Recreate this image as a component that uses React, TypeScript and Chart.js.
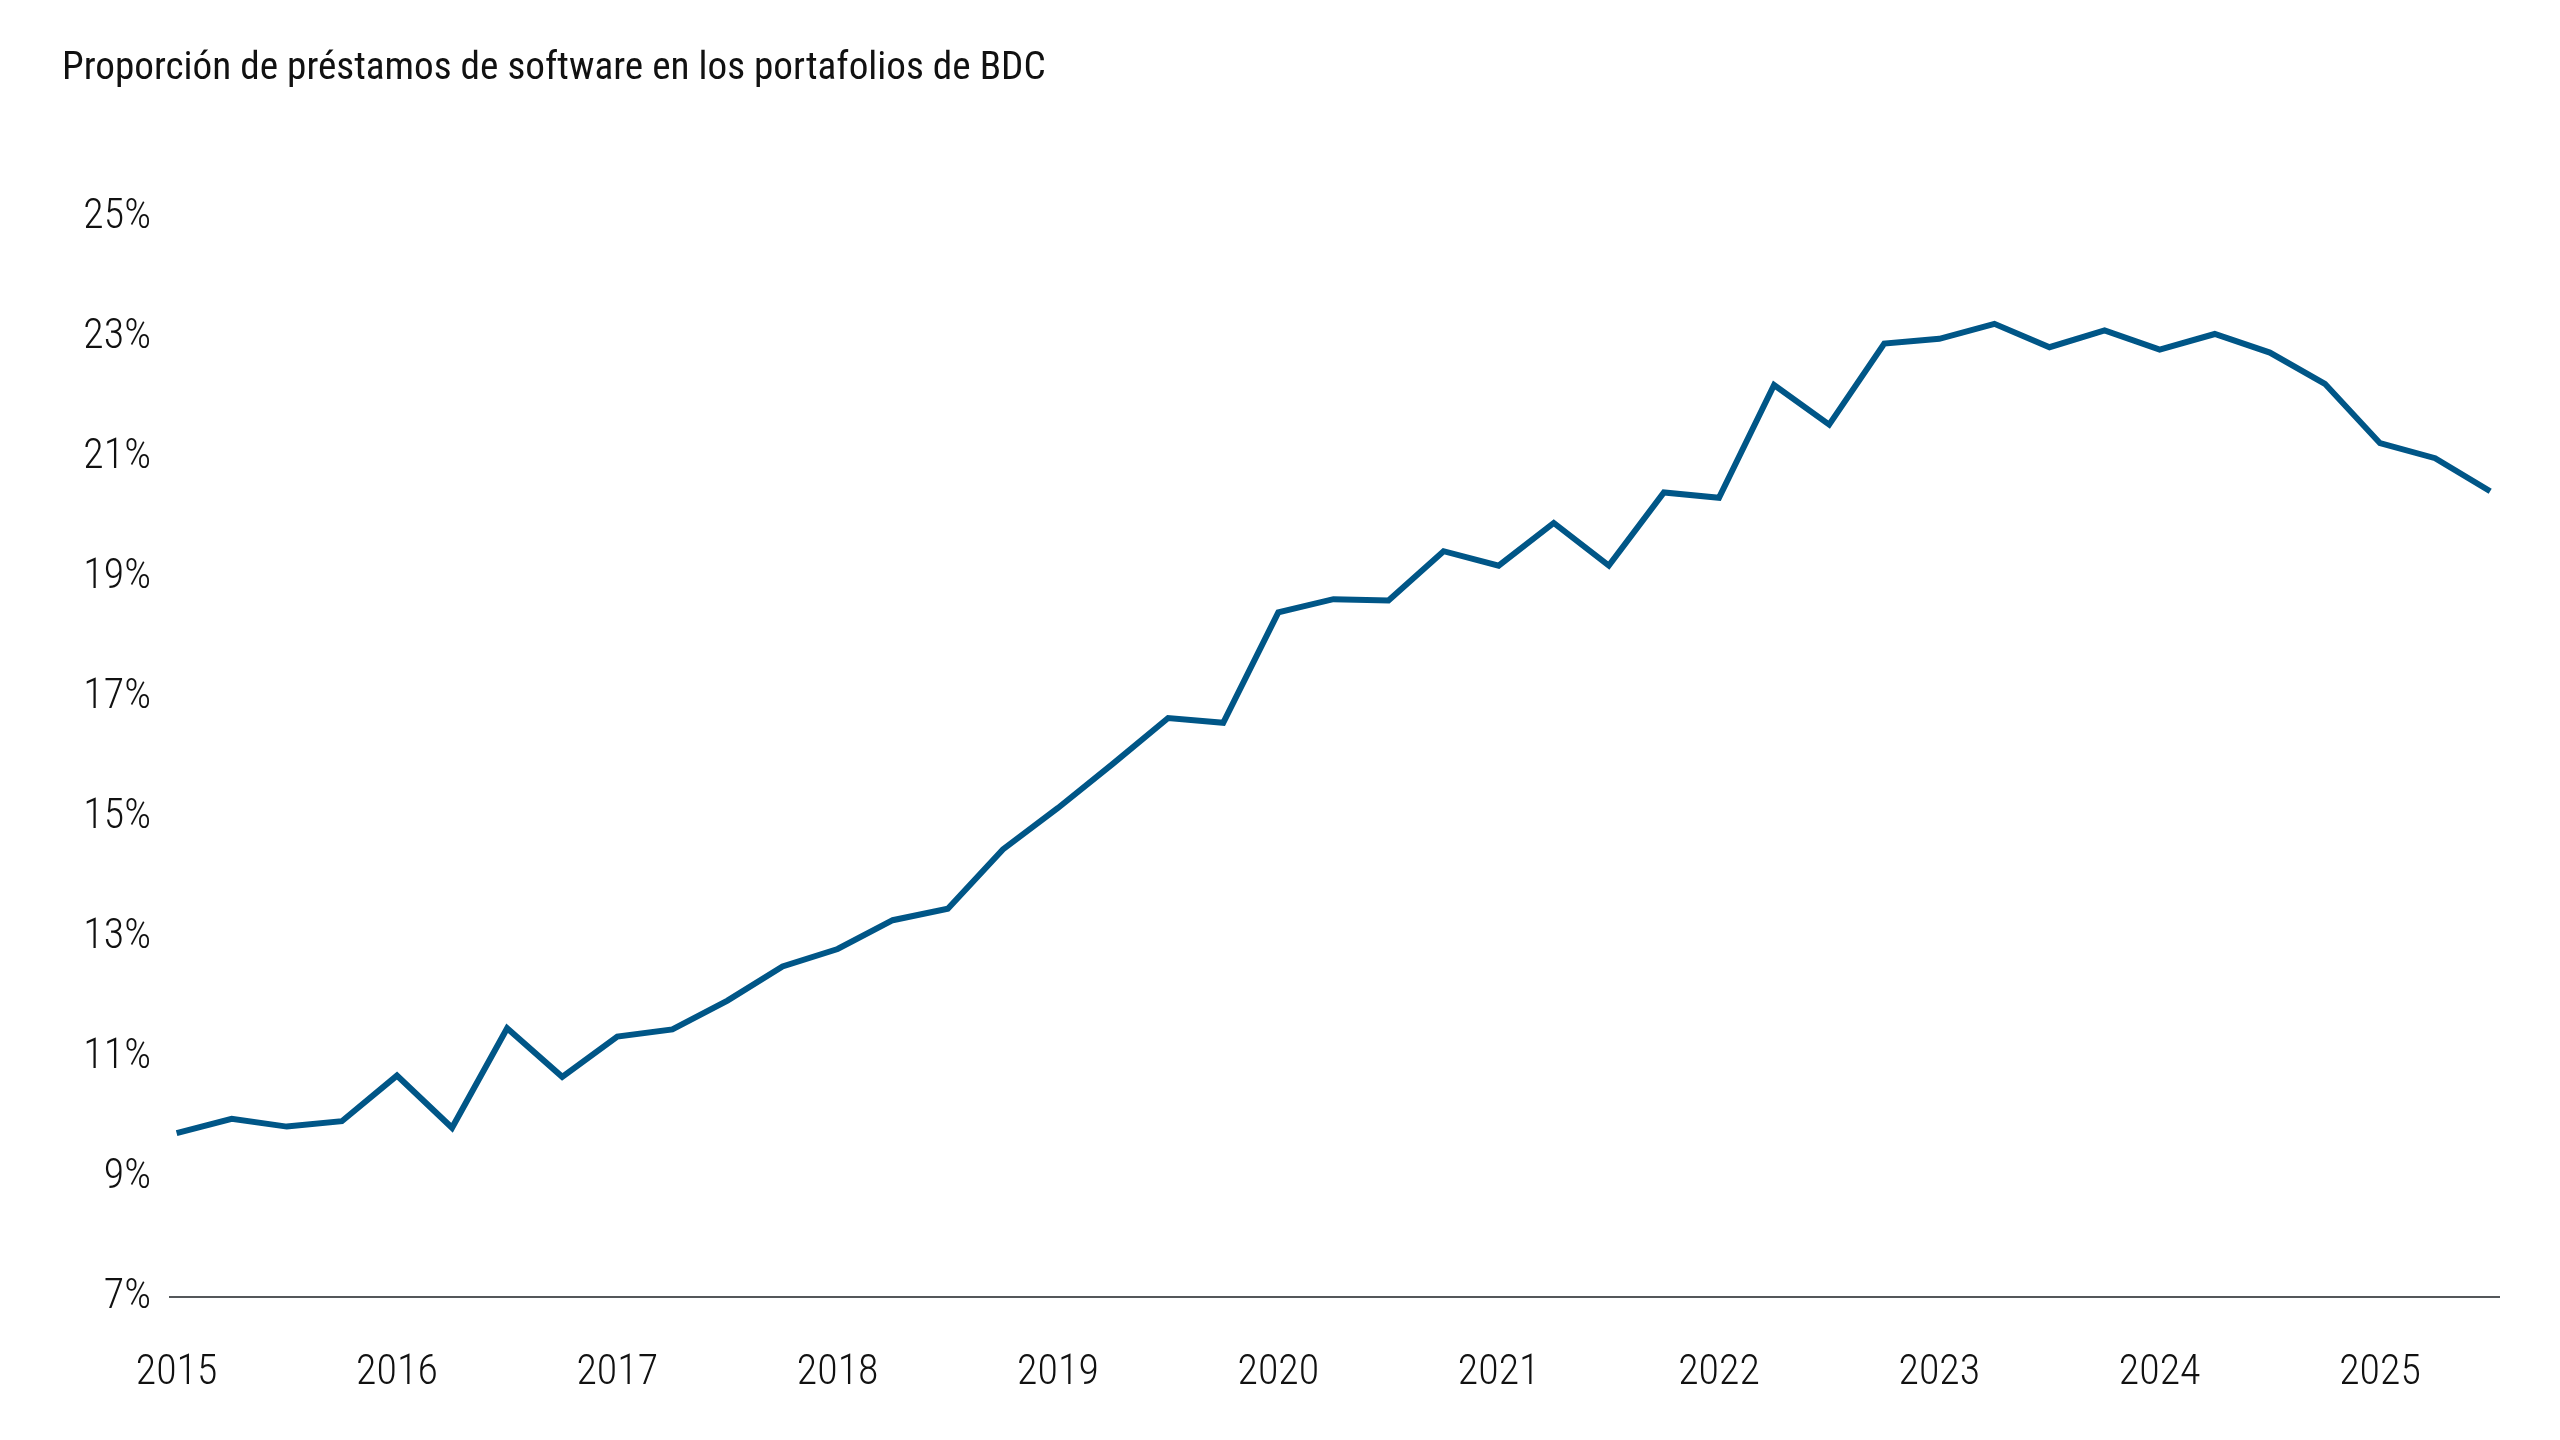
import React, { useEffect, useRef } from 'react';
import { Chart, registerables } from 'chart.js';

Chart.register(...registerables);

// quarterly share of software loans in BDC portfolios, 2015 Q1 .. 2025 Q3 (%)
const shareValues = [
  9.73, 9.97, 9.84, 9.93, 10.69, 9.82, 11.48, 10.67, 11.34, 11.46, 11.94, 12.51,
  12.8, 13.28, 13.47, 14.46, 15.15, 15.89, 16.65, 16.57, 18.41, 18.63, 18.61, 19.43,
  19.19, 19.9, 19.19, 20.41, 20.32, 22.2, 21.54, 22.89, 22.97, 23.22, 22.83, 23.11,
  22.79, 23.05, 22.74, 22.22, 21.23, 20.98, 20.43,
];

// year labels, one every four quarters
const yearLabels = ['2015', '2016', '2017', '2018', '2019', '2020', '2021', '2022', '2023', '2024', '2025'];

// y axis ticks
const yTicks = [7, 9, 11, 13, 15, 17, 19, 21, 23, 25];

const TITLE = 'Proporción de préstamos de software en los portafolios de BDC';
const FONT = '"Roboto Condensed", "Liberation Sans Narrow", Roboto, sans-serif';
const LINE_COLOR = '#005687';

const App = () => {
  const canvasRef = useRef<HTMLCanvasElement | null>(null);

  useEffect(() => {
    document.body.style.margin = '0';
    if (!canvasRef.current) return;

    const chart = new Chart(canvasRef.current, {
      type: 'line',
      data: {
        datasets: [
          {
            label: 'Software',
            data: shareValues.map((v, i) => ({ x: i, y: v })),
            borderColor: LINE_COLOR,
            borderWidth: 6,
            pointRadius: 0,
            tension: 0,
            borderJoinStyle: 'miter',
            fill: false,
          },
        ],
      },
      options: {
        responsive: false,
        animation: false,
        devicePixelRatio: 1,
        layout: { padding: { top: 217, right: 61, bottom: 0, left: 0 } },
        plugins: {
          legend: { display: false },
          tooltip: { enabled: false },
          title: { display: false },
        },
        scales: {
          x: {
            type: 'linear',
            min: -0.12,
            max: 42.16,
            grid: { display: false, drawTicks: false },
            border: { display: true, color: '#54575a', width: 2 },
            afterBuildTicks: (scale: any) => {
              scale.ticks = yearLabels.map((_, i) => ({ value: i * 4 }));
            },
            afterFit: (scale: any) => {
              scale.height = 143;
            },
            ticks: {
              autoSkip: false,
              maxRotation: 0,
              padding: 51,
              color: '#111',
              font: { family: FONT, size: 42, weight: 300 },
              callback: (value: any) => yearLabels[Math.round(Number(value) / 4)] ?? '',
            },
          },
          y: {
            min: 7,
            max: 25,
            grid: { display: false, drawTicks: false },
            border: { display: false },
            afterBuildTicks: (scale: any) => {
              scale.ticks = yTicks.map((v) => ({ value: v }));
            },
            afterFit: (scale: any) => {
              scale.width = 170;
            },
            ticks: {
              padding: 19,
              color: '#111',
              font: { family: FONT, size: 42, weight: 300 },
              callback: (value: any) => value + '%',
            },
          },
        },
      },
    });

    return () => {
      chart.destroy();
    };
  }, []);

  return (
    <div style={{ position: 'absolute', left: 0, top: 0, width: 2560, height: 1440, background: '#fff' }}>
      <div
        style={{
          position: 'absolute',
          left: 62,
          top: 47,
          fontFamily: FONT,
          fontSize: 39.2,
          lineHeight: 1,
          color: '#111',
          whiteSpace: 'nowrap',
        }}
      >
        {TITLE}
      </div>
      <canvas ref={canvasRef} width={2560} height={1440} style={{ display: 'block' }} />
    </div>
  );
};

export default App;
